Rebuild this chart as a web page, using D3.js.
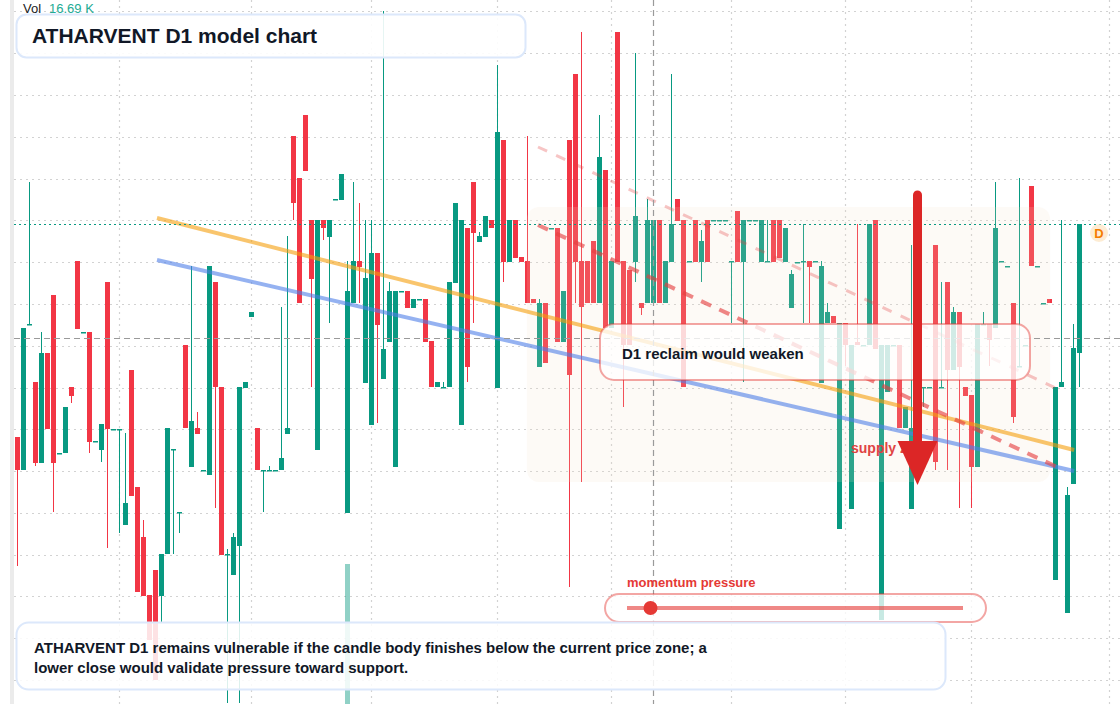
<!DOCTYPE html>
<html><head><meta charset="utf-8">
<script src="https://cdn.jsdelivr.net/npm/d3@7"></script>
<style>
html,body{margin:0;padding:0;background:#fff;}
svg{display:block;}
text{font-family:"Liberation Sans",Arial,Helvetica,sans-serif;}
</style></head><body>
<svg id="chart" width="1120" height="704"></svg>
<script>
// ---- data (daily candles, index 0..177) ----
const open = [
5.63,5.30,6.75,6.18,5.37,6.47,7.05,5.46,5.47,6.13,
7.39,6.67,6.68,5.58,5.50,7.18,5.70,5.70,4.75,6.30,
5.13,4.63,4.05,4.30,4.04,4.46,5.50,4.87,6.55,5.33,
5.72,5.29,5.25,7.18,6.13,4.45,4.25,4.54,6.12,6.83,
5.72,5.29,5.29,5.29,5.30,5.66,8.64,8.22,8.85,7.80,
5.50,7.80,7.63,8.00,8.00,4.87,6.97,7.39,6.17,5.75,
7.47,6.21,6.58,5.33,7.08,7.09,6.92,7.00,7.01,6.59,
6.13,6.12,6.13,7.17,5.75,7.72,8.18,7.58,7.63,7.80,
6.12,8.60,7.38,7.80,7.43,7.39,7.01,6.33,6.97,7.71,
7.72,6.58,8.60,9.26,7.39,7.39,7.59,6.97,8.30,6.72,
9.68,7.39,7.30,7.38,6.97,6.97,6.97,7.80,6.97,7.38,
8.01,7.80,7.38,7.80,7.38,7.80,7.79,7.79,7.79,7.38,
7.89,7.38,7.79,7.79,7.38,7.38,7.80,7.80,7.38,6.92,
7.37,7.38,7.39,7.38,6.17,6.77,6.84,4.71,6.77,4.91,
6.58,6.54,6.55,7.80,3.80,6.08,6.54,6.55,5.72,4.91,
6.12,6.12,6.12,7.55,6.12,7.18,6.30,6.88,6.13,6.05,
5.33,6.75,6.76,6.72,7.38,7.33,6.97,6.33,6.54,8.14,
7.33,6.96,7.01,4.20,6.13,3.87,5.16,6.47];
const high = [
5.63,6.72,8.18,6.18,6.68,6.47,7.05,5.47,5.93,6.13,
7.39,6.68,6.68,5.59,5.76,7.18,5.71,5.71,5.67,6.30,
5.13,4.80,4.05,4.30,4.46,5.72,5.51,4.88,6.55,7.34,
5.88,5.30,7.34,7.18,6.13,4.51,4.67,6.13,6.18,6.88,
5.72,5.30,5.34,5.30,6.93,7.64,8.64,8.22,8.85,7.80,
7.80,7.80,7.80,8.01,8.26,7.39,8.18,7.97,7.80,7.80,
7.47,9.89,7.18,7.09,7.09,7.09,7.01,7.01,7.01,6.59,
6.18,6.18,7.18,7.97,7.80,7.72,8.18,7.68,7.84,7.80,
9.35,8.60,7.80,7.80,7.43,8.64,7.01,7.01,6.97,7.72,
7.72,7.09,8.60,9.26,9.68,7.39,7.59,8.85,8.30,7.39,
9.68,7.39,7.30,9.47,6.97,8.01,7.80,7.80,7.39,9.26,
8.01,7.80,7.39,7.80,7.70,7.80,7.80,7.80,7.80,7.39,
7.89,7.80,7.80,7.80,7.80,7.80,7.80,7.80,7.72,7.30,
7.38,7.76,7.39,7.39,7.39,6.97,6.84,6.77,6.77,6.55,
7.76,6.55,7.76,7.80,6.55,6.55,6.55,6.55,5.93,7.55,
6.13,6.13,6.13,7.55,7.18,7.18,6.93,6.88,6.13,6.05,
6.76,6.88,6.76,8.18,7.39,7.34,6.97,8.22,6.55,8.14,
7.34,6.97,7.01,6.13,7.80,5.13,6.76,7.76];
const low = [
4.34,5.30,6.75,5.34,5.37,5.71,4.88,5.46,5.47,5.97,
6.71,6.67,5.47,5.58,5.38,4.52,5.70,4.67,4.75,5.04,
4.08,4.04,3.60,3.20,3.78,4.46,4.46,4.67,5.72,5.33,
5.66,5.29,5.25,4.92,4.45,2.97,4.25,2.97,6.12,6.83,
5.30,4.88,5.29,5.29,5.30,5.66,7.80,6.97,8.29,6.13,
5.50,7.60,6.77,8.00,8.00,4.87,6.97,6.97,6.17,5.75,
5.77,6.21,6.58,5.33,7.08,6.92,6.92,7.00,6.58,6.13,
6.13,6.12,6.13,7.17,5.75,6.18,6.77,7.58,7.63,7.72,
6.12,7.18,7.38,7.42,7.38,6.97,6.97,6.33,6.37,7.71,
6.58,6.58,4.13,6.97,5.18,6.97,6.97,6.97,6.72,6.72,
7.38,5.93,6.55,7.18,6.85,6.97,6.97,6.97,6.97,7.38,
7.79,6.13,7.38,7.38,7.18,7.38,7.79,7.79,7.79,6.77,
7.38,6.18,7.79,7.79,7.38,7.38,7.38,7.42,7.38,6.92,
7.37,6.77,6.77,7.38,6.17,6.77,6.77,4.71,6.34,4.91,
6.55,6.54,6.55,6.51,3.80,6.08,6.54,5.72,5.72,4.91,
6.12,5.93,6.12,5.30,6.12,5.30,6.30,4.92,6.04,4.92,
5.33,6.75,6.34,6.72,7.38,7.33,5.77,6.33,6.54,7.34,
7.33,6.96,6.97,4.20,6.13,3.87,5.16,6.13];
const close = [
5.30,6.72,6.76,5.37,6.47,5.71,5.37,5.47,5.93,6.04,
6.71,6.68,5.58,5.59,5.76,5.71,5.71,5.71,4.97,5.04,
4.08,4.04,3.60,3.20,4.46,5.72,5.51,4.88,5.72,5.79,
5.66,5.30,7.34,6.13,4.45,4.46,4.63,6.13,6.18,6.88,
5.30,5.30,5.30,5.30,5.42,5.72,7.97,6.97,8.29,7.21,
7.80,7.72,7.80,8.01,8.26,7.09,7.39,7.33,7.22,7.47,
6.75,6.51,7.09,7.09,7.09,6.92,7.01,7.01,6.58,6.13,
6.18,6.13,7.18,7.97,7.80,6.33,7.67,7.64,7.84,7.72,
8.68,7.38,7.80,7.42,7.38,6.97,6.97,6.97,6.37,7.72,
6.58,7.09,6.25,7.38,6.93,6.97,6.97,8.43,6.72,7.39,
7.38,6.55,6.55,7.84,6.92,7.80,7.80,6.97,7.39,7.76,
7.79,6.13,7.39,7.38,7.59,7.38,7.80,7.80,7.80,7.39,
7.38,7.80,7.80,7.80,7.80,7.39,7.38,7.42,7.72,7.26,
7.38,7.39,7.33,7.39,7.34,6.88,6.77,6.77,6.55,6.55,
6.55,6.55,7.76,6.51,6.55,6.55,6.55,5.72,5.93,5.72,
6.13,6.13,6.13,5.38,6.13,6.30,6.88,6.33,6.04,5.33,
6.76,6.76,6.60,7.72,7.39,7.34,5.83,6.34,6.55,7.34,
7.34,6.97,6.97,6.13,6.18,5.05,6.52,7.76];

const gridPrices = [9.89,9.47,9.05,8.63,8.21,7.80,7.38,6.96,6.54,6.12,5.71,5.29,4.87,4.45,4.04,3.62,3.20];
const monthTicks = [17,39,59,80,99,119,138,159,182];
const volumeIndex = [55];
const volumeValue = [16.69];
const lastPrice = 7.76;
const crossIndex = 105.9, crossPrice = 6.62;
const orangeLine = [[23.25,7.82],[176.1,5.50]];
const blueLine = [[23.25,7.40],[176.1,5.29]];
const dashStrong = [[86.75,7.75],[173.25,5.33]];
const dashLight = [[86.75,8.53],[173.4,6.11]];
const zone = {i0:84.9, i1:172.1, top:7.93, bottom:5.18};
const arrow = {index:150, from:8.05, head:5.59, to:5.15};
const momentumValue = 0.07;
const titleText = "ATHARVENT D1 model chart";
const noteLines = ["ATHARVENT D1 remains vulnerable if the candle body finishes below the current price zone; a",
                   "lower close would validate pressure toward support."];
const calloutText = "D1 reclaim would weaken";

// ---- scales ----
const W = 1120, H = 704;
const x = d3.scaleLinear().domain([0, 177]).range([17.5, 1079.5]);
const y = d3.scaleLinear().domain([2.96, 10]).range([704, 0]);
const vol = d3.scaleLinear().domain([0, 16.69]).range([704, 564]);
const mom = d3.scaleLinear().domain([0, 1]).range([627, 963]);
const UP = "#089981", DOWN = "#f23645";

const svg = d3.select("#chart");
svg.append("rect").attr("width", W).attr("height", H).attr("fill", "#fff");
svg.append("rect").attr("x", 10).attr("y", 0).attr("width", 4).attr("height", H).attr("fill", "#ebebeb");

// grid
const grid = svg.append("g");
grid.selectAll("line.h").data(gridPrices).join("line")
  .attr("x1", 14).attr("x2", W)
  .attr("y1", d => Math.round(y(d)) + 0.5).attr("y2", d => Math.round(y(d)) + 0.5)
  .attr("stroke", "#d2d2d2").attr("stroke-width", 1.2).attr("stroke-dasharray", "2,4");
grid.selectAll("line.v").data(monthTicks).join("line")
  .attr("x1", d => Math.floor(x(d)) + 0.5).attr("x2", d => Math.floor(x(d)) + 0.5)
  .attr("y1", 0).attr("y2", H)
  .attr("stroke", "#d2d2d2").attr("stroke-width", 1.2).attr("stroke-dasharray", "2,4");

// volume spike
svg.append("g").selectAll("rect").data(volumeIndex).join("rect")
  .attr("x", d => x(d) - 2.5).attr("width", 5)
  .attr("y", (d, k) => vol(volumeValue[k])).attr("height", (d, k) => vol(0) - vol(volumeValue[k]))
  .attr("fill", UP).attr("opacity", 0.45);

// candles
const idx = d3.range(open.length);
const cg = svg.append("g");
cg.selectAll("line").data(idx).join("line")
  .attr("x1", i => Math.floor(x(i)) + 0.5).attr("x2", i => Math.floor(x(i)) + 0.5)
  .attr("y1", i => y(high[i])).attr("y2", i => y(low[i]))
  .attr("stroke", i => close[i] >= open[i] ? UP : DOWN).attr("stroke-width", 1);
cg.selectAll("rect").data(idx).join("rect")
  .attr("x", i => x(i) - 2.5).attr("width", 5)
  .attr("y", i => y(Math.max(open[i], close[i])))
  .attr("height", i => Math.max(1.5, Math.abs(y(open[i]) - y(close[i]))))
  .attr("fill", i => close[i] >= open[i] ? UP : DOWN);

// zone overlay
svg.append("rect")
  .attr("x", x(zone.i0)).attr("y", y(zone.top))
  .attr("width", x(zone.i1) - x(zone.i0)).attr("height", y(zone.bottom) - y(zone.top))
  .attr("rx", 12).attr("fill", "rgb(245,222,200)").attr("opacity", 0.16);

// trend lines
const line = d3.line().x(d => x(d[0])).y(d => y(d[1]));
svg.append("path").attr("d", line(orangeLine)).attr("stroke", "#f59e0b").attr("stroke-opacity", 0.6)
  .attr("stroke-width", 4).attr("fill", "none");
svg.append("path").attr("d", line(blueLine)).attr("stroke", "#4f7fe8").attr("stroke-opacity", 0.6)
  .attr("stroke-width", 4).attr("fill", "none");
svg.append("path").attr("d", line(dashLight)).attr("stroke", "#e53e3e").attr("stroke-opacity", 0.3)
  .attr("stroke-width", 3).attr("stroke-dasharray", "10,10").attr("fill", "none");
svg.append("path").attr("d", line(dashStrong)).attr("stroke", "#e53e3e").attr("stroke-opacity", 0.62)
  .attr("stroke-width", 4).attr("stroke-dasharray", "11,9").attr("fill", "none");

// last price line & crosshair
svg.append("line").attr("x1", 14).attr("x2", W).attr("y1", Math.round(y(lastPrice)) + 0.5).attr("y2", Math.round(y(lastPrice)) + 0.5)
  .attr("stroke", UP).attr("stroke-width", 1.2).attr("stroke-dasharray", "2,3");
svg.append("line").attr("x1", 14).attr("x2", W).attr("y1", Math.round(y(crossPrice)) + 0.5).attr("y2", Math.round(y(crossPrice)) + 0.5)
  .attr("stroke", "#9a9a9a").attr("stroke-width", 1.2).attr("stroke-dasharray", "6,4");
svg.append("line").attr("x1", Math.round(x(crossIndex)) + 0.5).attr("x2", Math.round(x(crossIndex)) + 0.5).attr("y1", 0).attr("y2", H)
  .attr("stroke", "#9a9a9a").attr("stroke-width", 1.2).attr("stroke-dasharray", "6,4");

// volume legend
const vl = svg.append("text").attr("x", 23).attr("y", 13).attr("font-size", 13);
vl.append("tspan").attr("fill", "#222").text("Vol");
vl.append("tspan").attr("x", 49).attr("fill", "#22ab94").text(volumeValue[0].toFixed(2) + " K");

// title box
svg.append("rect").attr("x", 16.5).attr("y", 14.5).attr("width", 509).attr("height", 43).attr("rx", 10)
  .attr("fill", "#fff").attr("fill-opacity", 0.9).attr("stroke", "#dce8fb").attr("stroke-width", 2);
svg.append("text").attr("x", 32).attr("y", 43).attr("font-size", 21).attr("font-weight", 700)
  .attr("fill", "#111827").text(titleText);

// callout box
svg.append("rect").attr("x", 600).attr("y", 324).attr("width", 430).attr("height", 56).attr("rx", 14)
  .attr("fill", "#fff").attr("fill-opacity", 0.78).attr("stroke", "rgba(229,57,53,0.45)").attr("stroke-width", 2);
svg.append("text").attr("x", 622).attr("y", 359).attr("font-size", 15).attr("font-weight", 700)
  .attr("fill", "#111827").text(calloutText);

// momentum pill
svg.append("text").attr("x", 627).attr("y", 587).attr("font-size", 13).attr("font-weight", 700)
  .attr("fill", "#e53935").text("momentum pressure");
svg.append("rect").attr("x", 605).attr("y", 594).attr("width", 381).attr("height", 28).attr("rx", 14)
  .attr("fill", "#fff").attr("fill-opacity", 0.78).attr("stroke", "rgba(229,57,53,0.45)").attr("stroke-width", 2);
svg.append("line").attr("x1", mom(0)).attr("x2", mom(1)).attr("y1", 608).attr("y2", 608)
  .attr("stroke", "#e53935").attr("stroke-opacity", 0.6).attr("stroke-width", 4);
svg.append("circle").attr("cx", mom(momentumValue)).attr("cy", 608).attr("r", 7).attr("fill", "#e53935");

// bottom note box
svg.append("rect").attr("x", 16.5).attr("y", 622.5).attr("width", 929).attr("height", 67).attr("rx", 12)
  .attr("fill", "#fff").attr("fill-opacity", 0.86).attr("stroke", "#dce8fb").attr("stroke-width", 2);
svg.append("text").attr("font-size", 15).attr("font-weight", 700).attr("fill", "#111827")
  .selectAll("tspan").data(noteLines).join("tspan")
  .attr("x", 34).attr("y", (d, k) => 653 + k * 20).text(d => d);

// supply zone label + arrow
svg.append("text").attr("x", 851).attr("y", 453).attr("font-size", 14).attr("font-weight", 700)
  .attr("fill", "#e04444").text("supply zone");
const ax = x(arrow.index);
svg.append("line").attr("x1", ax).attr("x2", ax).attr("y1", y(arrow.from)).attr("y2", y(arrow.head) + 4)
  .attr("stroke", "#dc2626").attr("stroke-width", 9).attr("stroke-linecap", "round");
svg.append("path")
  .attr("d", `M${ax - 20},${y(arrow.head)} L${ax + 20},${y(arrow.head)} L${ax},${y(arrow.to)} Z`)
  .attr("fill", "#dc2626");

// D badge
svg.append("circle").attr("cx", 1099).attr("cy", 233).attr("r", 9).attr("fill", "#fde7c8").attr("opacity", 0.8);
svg.append("text").attr("x", 1099).attr("y", 238).attr("text-anchor", "middle").attr("font-size", 13)
  .attr("font-weight", 700).attr("fill", "#f57c00").text("D");
</script>
</body></html>
